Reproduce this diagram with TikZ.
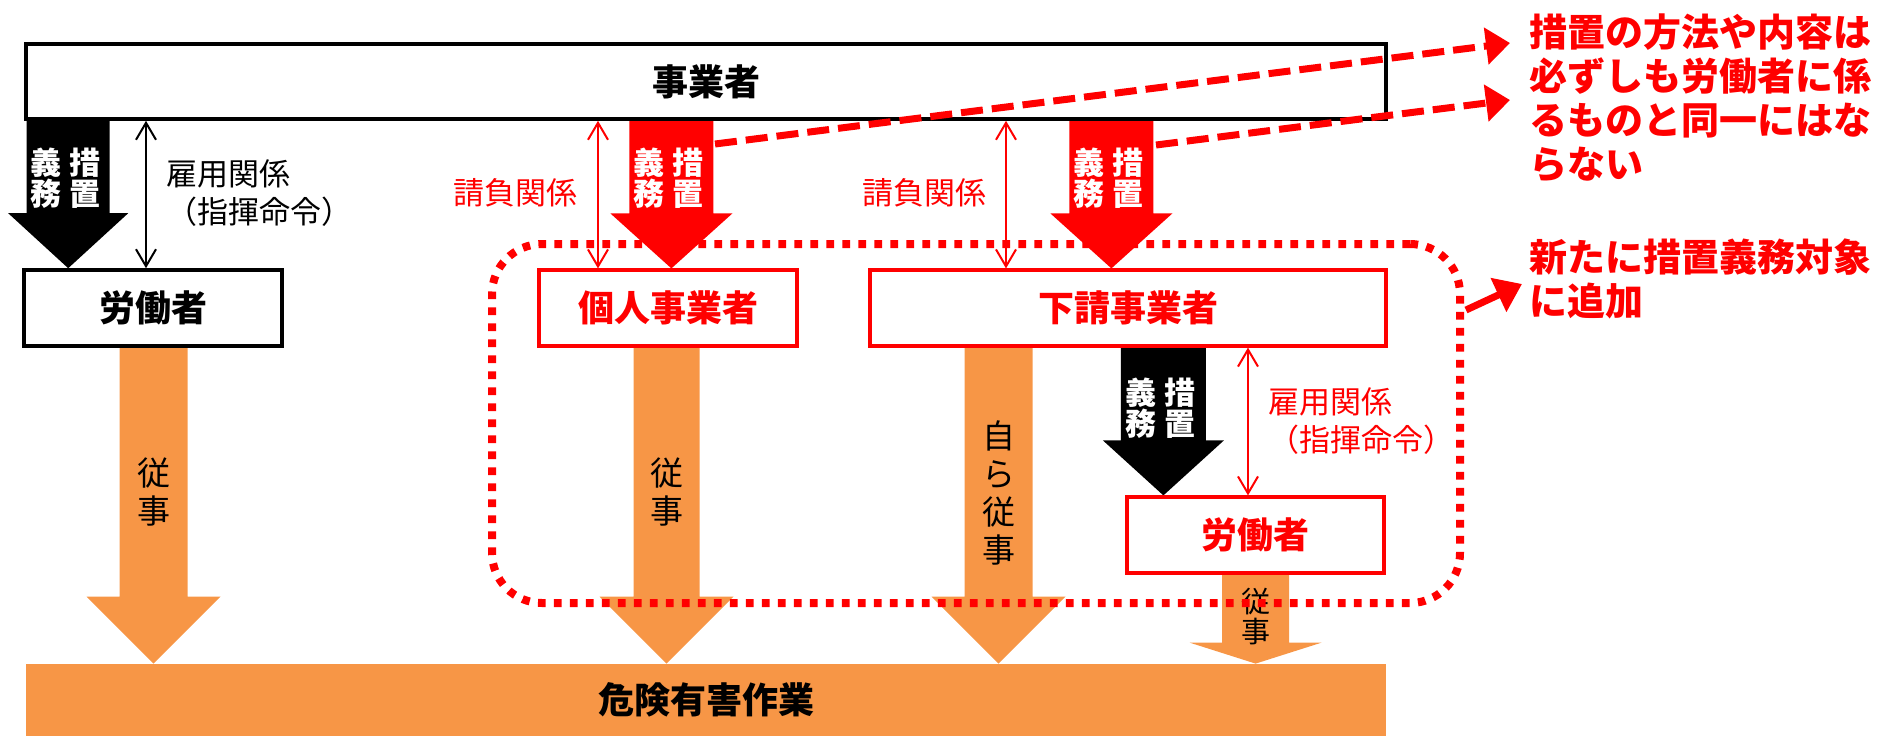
\documentclass[tikz,border=0pt]{standalone}
\usepackage{fontspec}
\setmainfont{Noto Sans CJK JP}
\usetikzlibrary{calc,arrows.meta}
\definecolor{jred}{RGB}{255,0,0}
\definecolor{jorange}{RGB}{247,150,70}
\pgfdeclarelayer{bg}
\pgfsetlayers{bg,main}
% block arrow: [style]{top ref}{tip}{half shaft}{half head}{head length}
\newcommand\barrow[6][]{%
  \fill[#1] ($(#3 |- #2)+(-#4,0)$) -- ($(#3 |- #2)+(#4,0)$) -- ($(#3)+(#4,-#6)$) -- ($(#3)+(#5,-#6)$) -- (#3) -- ($(#3)+(-#5,-#6)$) -- ($(#3)+(-#4,-#6)$) -- cycle;}
\begin{document}
\begin{tikzpicture}[x=0.5pt,y=-0.5pt,
  box/.style={draw=black, line width=1.8pt, fill=white, inner sep=0pt, text=black, font=\fontsize{18}{22}\selectfont\bfseries},
  rbox/.style={box, draw=jred, line width=1.6pt, text=jred},
  lbl/.style={inner sep=0pt, align=left, font=\fontsize{15.5}{19}\selectfont},
  wlbl/.style={inner sep=0pt, align=center, text=white, font=\fontsize{15.5}{15.5}\selectfont\bfseries},
  vlbl/.style={inner sep=0pt, align=center, text=black, font=\fontsize{16.5}{19}\selectfont},
  svlbl/.style={vlbl, font=\fontsize{14.5}{15}\selectfont},
  note/.style={inner sep=0pt, align=left, text=jred, font=\fontsize{19}{22}\selectfont\bfseries},
  dbl/.style={line width=1pt, {Straight Barb[length=8.5pt,width=10pt]}-{Straight Barb[length=8.5pt,width=10pt]}},
  dotbox/.style={draw=jred, line width=4pt, dash pattern=on 3.8pt off 4.2pt, rounded corners=25pt, inner sep=0pt},
  dline/.style={draw=jred, line width=3.5pt, dash pattern=on 11pt off 4.5pt, -{Triangle[length=12pt,width=18pt]}},
  sline/.style={draw=jred, line width=3.5pt, -{Triangle[length=13pt,width=18pt]}}
]
\useasboundingbox (0,0) rectangle (1881,736);

% boxes
\node[box, minimum width=680pt, minimum height=37.5pt] (jig) at (706,81.5) {事業者};
\node[box, minimum width=129pt, minimum height=38pt] (rod1) at (153,308) {労働者};
\node[rbox, minimum width=129pt, minimum height=38pt] (kojin) at (668,308) {個人事業者};
\node[rbox, minimum width=258pt, minimum height=38pt] (shita) at (1128,308) {下請事業者};
\node[rbox, minimum width=128.5pt, minimum height=38pt] (rod2) at (1255.5,535) {労働者};
\node[fill=jorange, minimum width=680pt, minimum height=36pt, inner sep=0pt, font=\fontsize{18}{22}\selectfont\bfseries] (kiken) at (706,700) {危険有害作業};

% block arrows (behind boxes)
\begin{pgfonlayer}{bg}
  \coordinate (t1) at ($(rod1.north west)+(46,0)$);
  \coordinate (t2) at ($(kojin.north west)+(134,0)$);
  \coordinate (t3) at ($(shita.north west)+(243,0)$);
  \coordinate (t4) at ($(rod2.north west)+(38,0)$);
  \coordinate (o1) at ($(kiken.north west)+(128,0)$);
  \coordinate (o2) at ($(kiken.north west)+(641,0)$);
  \coordinate (o3) at ($(kiken.north west)+(973,0)$);
  \coordinate (o4) at ($(kiken.north west)+(1230,0)$);
  \barrow[black]{jig.south}{t1}{41.5}{60}{55}
  \barrow[jred]{jig.south}{t2}{42}{61}{55}
  \barrow[jred]{jig.south}{t3}{42}{61}{55}
  \barrow[black]{shita.south}{t4}{42.5}{60.5}{55}
  \barrow[jorange]{rod1.south}{o1}{34}{67}{67}
  \barrow[jorange]{kojin.south}{o2}{33}{67}{67}
  \barrow[jorange]{shita.south}{o3}{34}{67}{67}
  \barrow[jorange]{rod2.south}{o4}{33.5}{66}{21}
\end{pgfonlayer}

% labels in block arrows
\node[wlbl] (m1) at (66,178) {義\hspace{4pt}措\\務\hspace{4pt}置};
\node[wlbl] (m2) at (668,178) {義\hspace{4pt}措\\務\hspace{4pt}置};
\node[wlbl] (m3) at (1108,178) {義\hspace{4pt}措\\務\hspace{4pt}置};
\node[wlbl] (m4) at (1160,408) {義\hspace{4pt}措\\務\hspace{4pt}置};
\node[vlbl] (j1) at (154,492) {従\\事};
\node[vlbl] (j2) at (667,492) {従\\事};
\node[vlbl] (j3) at (999,492.5) {自\\ら\\従\\事};
\node[svlbl] (j4) at (1256,617) {従\\事};

% double arrows
\coordinate (d1) at (146,0);
\coordinate (d2) at (598,0);
\coordinate (d3) at (1006,0);
\coordinate (d4) at (1248,0);
\draw[dbl, black] (d1 |- jig.south) -- (d1 |- rod1.north);
\draw[dbl, jred] (d2 |- jig.south) -- (d2 |- kojin.north);
\draw[dbl, jred] (d3 |- jig.south) -- (d3 |- shita.north);
\draw[dbl, jred] (d4 |- shita.south) -- (d4 |- rod2.north);

\node[lbl, anchor=west] (k1) at (166,193) {雇用関係\\（指揮命令）};
\node[lbl, text=jred] (u1) at (515,193) {請負関係};
\node[lbl, text=jred] (u2) at (924,193) {請負関係};
\node[lbl, anchor=west, text=jred] (k2) at (1268,421) {雇用関係\\（指揮命令）};

% dotted group
\node[dotbox, minimum width=484pt, minimum height=179.5pt] (grp) at (976,423.5) {};

% notes
\node[note, anchor=west] (n1) at (1529,97.5) {措置の方法や内容は\\必ずしも労働者に係\\るものと同一にはな\\らない};
\node[note, anchor=west] (n2) at (1529,279) {新たに措置義務対象\\に追加};

\coordinate (s1) at (715,144);
\coordinate (e1) at (1510,43);
\coordinate (s2) at (1156,145);
\coordinate (e2) at (1510,100);
\draw[dline] (s1) -- (e1);
\draw[dline] (s2) -- (e2);
\coordinate (g1) at ($(grp.north east)+(2,70)$);
\coordinate (g2) at (1522,284);
\draw[sline] (g1) -- (g2);
\end{tikzpicture}
\end{document}
